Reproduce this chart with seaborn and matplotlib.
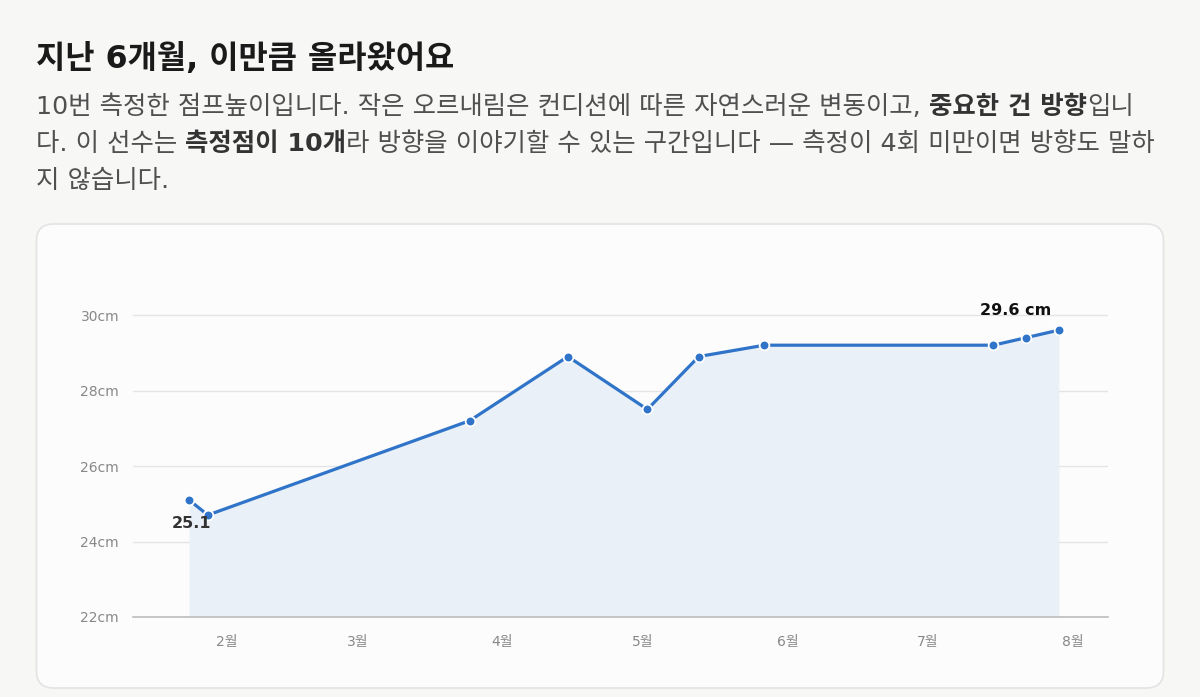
import matplotlib
matplotlib.use('Agg')
import matplotlib.pyplot as plt
from matplotlib.patches import FancyBboxPatch
import seaborn as sns
import pandas as pd

dates = ['2025-01-24', '2025-01-28', '2025-03-25', '2025-04-15', '2025-05-02',
         '2025-05-13', '2025-05-27', '2025-07-15', '2025-07-22', '2025-07-29']
heights = [25.1, 24.7, 27.2, 28.9, 27.5, 28.9, 29.2, 29.2, 29.4, 29.6]
month_ticks = ['2025-02-01', '2025-03-01', '2025-04-01', '2025-05-01',
               '2025-06-01', '2025-07-01', '2025-08-01']
month_labels = ['2월', '3월', '4월', '5월', '6월', '7월', '8월']
y_ticks = [22, 24, 26, 28, 30]

df = pd.DataFrame({'date': pd.to_datetime(dates), 'height': heights})

sns.set_style('white')
FAM = ['DejaVu Sans', 'Noto Sans CJK KR']
plt.rcParams['font.family'] = FAM

BLUE = '#2f74c8'
fig = plt.figure(figsize=(12, 6.97), dpi=100)
fig.patch.set_facecolor('#f7f7f6')

# card behind the chart
card = FancyBboxPatch((0.365, 0.09), 11.27, 4.64,
                      boxstyle='round,pad=0,rounding_size=0.17',
                      transform=fig.dpi_scale_trans, facecolor='#fcfcfc',
                      edgecolor='#e3e3e3', linewidth=1.2, zorder=-5)
fig.patches.append(card)

# title
fig.text(0.03, 1 - 59 / 697, '지난 6개월, 이만큼 올라왔어요', fontsize=22.9, fontweight='bold',
         color='#1a1a1a', va='center', ha='left')

# body text with bold runs
lines = [
    [('10번 측정한 점프높이입니다. 작은 오르내림은 컨디션에 따른 자연스러운 변동이고, ', False),
     ('중요한 건 방향', True), ('입니', False)],
    [('다. 이 선수는 ', False), ('측정점이 10개', True),
     ('라 방향을 이야기할 수 있는 구간입니다 — 측정이 4회 미만이면 방향도 말하', False)],
    [('지 않습니다.', False)],
]
line_y = [107, 144, 181]
renderer = fig.canvas.get_renderer()
BODY = 18.3


def text_width(s, bold):
    w = 'bold' if bold else 'normal'
    t1 = fig.text(0, 0, '|' + s + '|', fontsize=BODY, fontweight=w)
    t2 = fig.text(0, 0, '||', fontsize=BODY, fontweight=w)
    w1 = t1.get_window_extent(renderer).width
    w2 = t2.get_window_extent(renderer).width
    t1.remove()
    t2.remove()
    return w1 - w2


for segs, yp in zip(lines, line_y):
    x = 36
    for s, b in segs:
        fig.text(x / 1200, 1 - yp / 697, s, fontsize=BODY,
                 fontweight='bold' if b else 'normal',
                 color='#333333' if b else '#505050', va='center', ha='left')
        x += text_width(s, b)

# chart
ax = fig.add_axes([133 / 1200, 1 - 617 / 697, (1108 - 133) / 1200, (617 - 292.35) / 697])
ax.set_facecolor('none')
ax.fill_between(df['date'], df['height'], 22, color='#e9f0f8', linewidth=0, zorder=1)
sns.lineplot(data=df, x='date', y='height', ax=ax, color=BLUE, linewidth=2.3,
             marker='o', markersize=7, markeredgecolor='white', markeredgewidth=1.3,
             zorder=3)

ax.set_xlim(pd.Timestamp('2025-01-12'), pd.Timestamp('2025-08-08 12:00'))
ax.set_ylim(22, 30.6)
ax.set_yticks(y_ticks)
ax.set_yticklabels([f'{v}cm' for v in y_ticks])
ax.set_xticks(pd.to_datetime(month_ticks))
ax.set_xticklabels(month_labels)
ax.tick_params(axis='y', length=0, pad=10, labelsize=10, labelcolor='#888888')
ax.tick_params(axis='x', length=0, pad=13, labelsize=10, labelcolor='#888888')
ax.grid(axis='y', color='#e4e4e4', linewidth=1)
ax.grid(axis='x', visible=False)
for side in ['top', 'right', 'left']:
    ax.spines[side].set_visible(False)
ax.spines['bottom'].set_color('#bdbdbd')
ax.spines['bottom'].set_linewidth(1.2)
ax.set_xlabel('')
ax.set_ylabel('')

# annotations
ax.annotate(f'{heights[0]}', (df['date'].iloc[0], heights[0]), xytext=(2, -17),
            textcoords='offset points', ha='center', va='center', fontsize=11.5,
            fontweight='bold', color='#333333')
ax.annotate(f'{heights[-1]} cm', (df['date'].iloc[-1], heights[-1]), xytext=(-31, 14),
            textcoords='offset points', ha='center', va='center', fontsize=11.5,
            fontweight='bold', color='#111111')

fig.savefig('out.png', dpi=100, facecolor=fig.get_facecolor())
